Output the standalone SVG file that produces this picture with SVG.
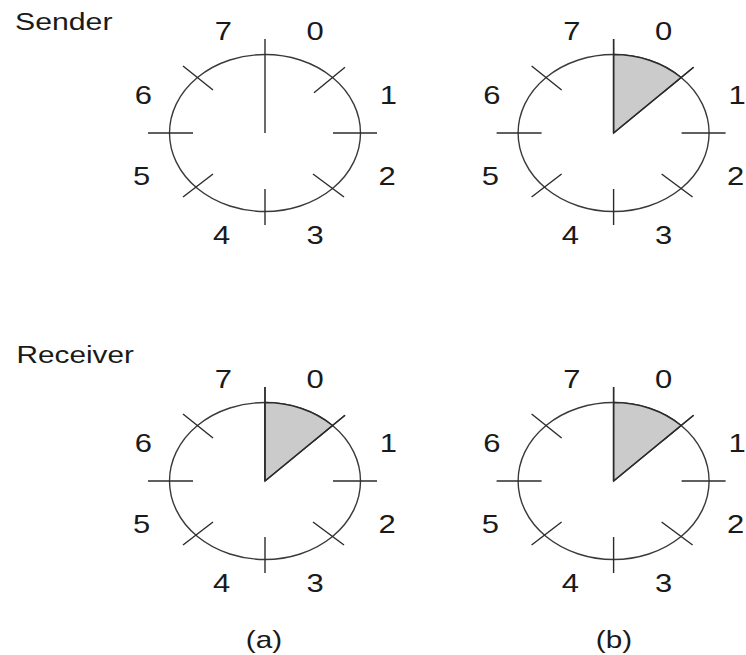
<svg xmlns="http://www.w3.org/2000/svg" xmlns:xlink="http://www.w3.org/1999/xlink" width="746" height="655" viewBox="0 0 746 655">
<style>
  .ln { stroke: #2b2b2b; stroke-width: 1.4; fill: none; stroke-linecap: butt; }
  .ring { stroke: #3a3a3a; stroke-width: 1.4; fill: none; }
  .wedge { fill: #cbcbcb; stroke: #2b2b2b; stroke-width: 1.4; stroke-linejoin: miter; }
  .num { font-family: "Liberation Sans", Arial, sans-serif; font-size: 25px; fill: #1a1a1a; text-anchor: middle; }
  .ttl { font-family: "Liberation Sans", Arial, sans-serif; font-size: 24px; fill: #1a1a1a; }
</style>
<defs>
  <g id="dial">
    <ellipse class="ring" cx="0" cy="0" rx="95.5" ry="78.5"/>
    <line class="ln" x1="0" y1="-94" x2="0" y2="0"/>
    <line class="ln" x1="68" y1="0" x2="112" y2="0"/>
    <line class="ln" x1="-117" y1="0" x2="-72" y2="0"/>
    <line class="ln" x1="0" y1="56" x2="0" y2="92"/>
    <line class="ln" x1="49" y1="-40.3" x2="80" y2="-65.8"/>
    <line class="ln" x1="-82" y1="-67" x2="-52" y2="-43"/>
    <line class="ln" x1="-82" y1="64" x2="-52" y2="41"/>
    <line class="ln" x1="48" y1="41" x2="79" y2="64"/>
    <text class="num" transform="translate(-41.7,-93) scale(1.24,1)">7</text>
    <text class="num" transform="translate(50,-93) scale(1.24,1)">0</text>
    <text class="num" transform="translate(-121.7,-29) scale(1.24,1)">6</text>
    <text class="num" transform="translate(123.4,-29) scale(1.24,1)">1</text>
    <text class="num" transform="translate(-123.3,52) scale(1.24,1)">5</text>
    <text class="num" transform="translate(122,52) scale(1.24,1)">2</text>
    <text class="num" transform="translate(-43.3,111) scale(1.24,1)">4</text>
    <text class="num" transform="translate(50,111) scale(1.24,1)">3</text>
  </g>
  <g id="window">
    <path class="wedge" d="M0,0 L0,-78.5 A95.5,78.5 0 0 1 67.5,-55.5 Z"/>
    <line class="ln" x1="0" y1="0" x2="80" y2="-65.8"/>
    <line class="ln" x1="0" y1="-94" x2="0" y2="0"/>
  </g>
</defs>

<text class="ttl" transform="translate(15,30) scale(1.26,1)">Sender</text>
<text class="ttl" transform="translate(16.5,362.5) scale(1.24,1)">Receiver</text>

<g id="sender-a" transform="translate(265,133)">
  <use xlink:href="#dial" href="#dial"/>
</g>
<g id="sender-b" transform="translate(613.6,133)">
  <use xlink:href="#dial" href="#dial"/>
  <use xlink:href="#window" href="#window"/>
</g>
<g id="receiver-a" transform="translate(265,481)">
  <use xlink:href="#dial" href="#dial"/>
  <use xlink:href="#window" href="#window"/>
</g>
<g id="receiver-b" transform="translate(613.6,481)">
  <use xlink:href="#dial" href="#dial"/>
  <use xlink:href="#window" href="#window"/>
</g>

<g id="connectors"></g>

<text class="num" transform="translate(264,648) scale(1.24,1)" style="font-size:24px">(a)</text>
<text class="num" transform="translate(614,648) scale(1.24,1)" style="font-size:24px">(b)</text>
</svg>
